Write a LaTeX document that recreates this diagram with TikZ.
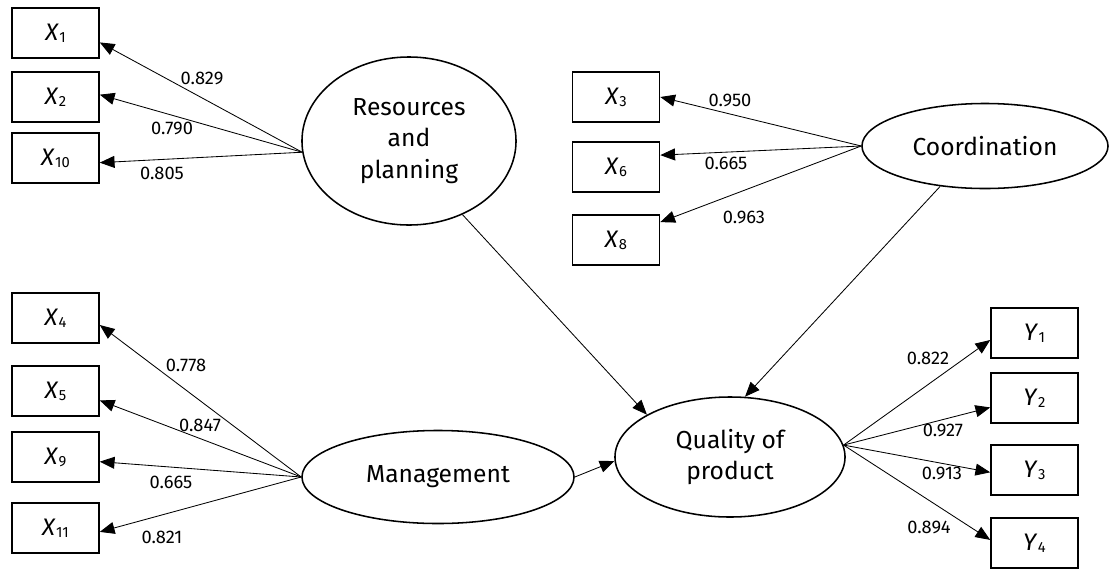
\documentclass[tikz,border=0pt]{standalone}
\usepackage{fontspec}
\setmainfont{Fira Sans}
\usetikzlibrary{arrows.meta,shapes.geometric}

% indicator name with a small upright index
\newcommand{\mvar}[2]{\textit{#1}\kern0.3pt\raisebox{-1.5pt}{\fontsize{10.5}{10.5}\selectfont #2}}

\begin{document}
\begin{tikzpicture}[x=0.025cm, y=-0.025cm,
  item/.style={draw, line width=1.1pt, minimum width=2.175cm, minimum height=1.25cm,
    inner sep=0pt, font=\fontsize{17}{19}\selectfont},
  factor/.style={draw, ellipse, line width=1.1pt, inner sep=0pt, align=center,
    font=\fontsize{17.5}{22.5}\selectfont},
  load/.style={-{Triangle[length=10.5pt, width=8.5pt]}, line width=0.6pt},
  coef/.style={inner sep=0pt, font=\fontsize{13}{13}\selectfont}]

  \useasboundingbox (0,0) rectangle (1113,568);

  %% Resources and planning
  \node[item] (x1) at (55.5,33) {\mvar{X}{1}};
  \node[item] (x2) at (55.5,97) {\mvar{X}{2}};
  \node[item] (x10) at (55.5,158) {\mvar{X}{10}};
  \node[factor, minimum width=5.35cm, minimum height=4.2cm] (res) at (409,141)
    {Resources\\and\\planning};

  \draw[load] (res.186) -- (x1.-12);
  \draw[load] (res.186) -- (x2.3);
  \draw[load] (res.186) -- (x10.-6);
  \node[coef] at (202,78) {0.829};
  \node[coef] at (172,128) {0.790};
  \node[coef] at (162,173) {0.805};

  %% Coordination
  \node[item] (x3) at (616,97) {\mvar{X}{3}};
  \node[item] (x6) at (616,167) {\mvar{X}{6}};
  \node[item] (x8) at (616,240) {\mvar{X}{8}};
  \node[factor, minimum width=6.15cm, minimum height=2.125cm] (coord) at (985,146)
    {Coordination};

  \draw[load] (coord.west) -- (x3.east);
  \draw[load] (coord.west) -- (x6.15);
  \draw[load] (coord.west) -- (x8.22);
  \node[coef] at (730,100) {0.950};
  \node[coef] at (726,163) {0.665};
  \node[coef] at (744,217) {0.963};

  %% Management
  \node[item] (x4) at (55.5,318) {\mvar{X}{4}};
  \node[item] (x5) at (55.5,391) {\mvar{X}{5}};
  \node[item] (x9) at (55.5,457) {\mvar{X}{9}};
  \node[item] (x11) at (55.5,528) {\mvar{X}{11}};
  \node[factor, minimum width=6.8cm, minimum height=2.325cm] (mgmt) at (438,477)
    {Management};

  \draw[load] (mgmt.west) -- (x4.-9);
  \draw[load] (mgmt.west) -- (x5.-12);
  \draw[load] (mgmt.west) -- (x9.-6);
  \draw[load] (mgmt.west) -- (x11.-5);
  \node[coef] at (186,365) {0.778};
  \node[coef] at (200,425) {0.847};
  \node[coef] at (171,482) {0.665};
  \node[coef] at (162,537) {0.821};

  %% Quality of product
  \node[factor, minimum width=5.75cm, minimum height=3cm] (qual) at (730,457)
    {Quality of\\product};
  \node[item] (y1) at (1034.5,333) {\mvar{Y}{1}};
  \node[item] (y2) at (1034.5,398) {\mvar{Y}{2}};
  \node[item] (y3) at (1034.5,470) {\mvar{Y}{3}};
  \node[item] (y4) at (1034.5,543) {\mvar{Y}{4}};

  \draw[load] (qual.6) -- (y1.189);
  \draw[load] (qual.6) -- (y2.192);
  \draw[load] (qual.6) -- (y3.183);
  \draw[load] (qual.6) -- (y4.176);
  \node[coef] at (928,358) {0.822};
  \node[coef] at (943,430) {0.927};
  \node[coef] at (942,473) {0.913};
  \node[coef] at (929,527) {0.894};

  % paths between the factors
  \draw[load] (res.-54) -- (qual.153);
  \draw[load] (coord.222) -- (qual.76);
  \draw[load] (mgmt.east) -- (qual.182);
\end{tikzpicture}
\end{document}
